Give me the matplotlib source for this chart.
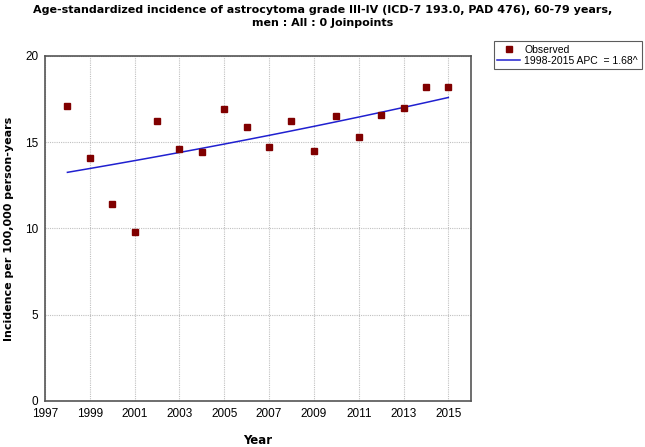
import matplotlib
matplotlib.use("Agg")
import matplotlib.pyplot as plt
import numpy as np

years = [1998, 1999, 2000, 2001, 2002, 2003, 2004, 2005, 2006, 2007, 2008,
         2009, 2010, 2011, 2012, 2013, 2014, 2015]
observed = [17.1, 14.1, 11.4, 9.8, 16.2, 14.6, 14.4, 16.9, 15.9, 14.7, 16.2,
            14.5, 16.5, 15.3, 16.6, 17.0, 18.2, 18.2]
fit_start = 13.25
apc = 1.68
x_ticks = [1997, 1999, 2001, 2003, 2005, 2007, 2009, 2011, 2013, 2015]
y_ticks = [0, 5, 10, 15, 20]

fitted = [fit_start * (1 + apc / 100) ** (y - years[0]) for y in years]

fig = plt.figure(figsize=(6.45, 4.47), dpi=100)
ax = fig.add_axes([0.0698, 0.103, 0.660, 0.772])

ax.plot(years, fitted, color="#2020d0", lw=1.1, zorder=3,
        label="1998-2015 APC  = 1.68^")
ax.plot(years, observed, ls="none", marker="s", ms=4.5, color="#800000",
        zorder=4, label="Observed")

ax.set_xlim(1997, 2016)
ax.set_ylim(0, 20)
ax.set_xticks(x_ticks)
ax.set_yticks(y_ticks)
ax.tick_params(length=0, labelsize=8.5, pad=5)
for lab in ax.get_xticklabels() + ax.get_yticklabels():
    lab.set_family("Liberation Sans")
ax.grid(True, color="#c0c0c0", ls=(0, (1, 1)), lw=0.8)
for s in ax.spines.values():
    s.set_color("#555555")
    s.set_linewidth(1.2)

ax.set_xlabel("Year", fontsize=8.5, fontweight="bold", labelpad=10)
ax.set_ylabel("Incidence per 100,000 person-years", fontsize=8,
              fontweight="bold", labelpad=8)

fig.text(0.5, 0.988, "Age-standardized incidence of astrocytoma grade III-IV (ICD-7 193.0, PAD 476), 60-79 years,\nmen : All : 0 Joinpoints",
         ha="center", va="top", fontsize=8, fontweight="bold", linespacing=1.35)

handles, labels = ax.get_legend_handles_labels()
leg = fig.legend(handles[::-1], labels[::-1], loc="upper left",
                 bbox_to_anchor=(0.762, 0.912), frameon=True,
                 fancybox=False, edgecolor="#333333", handlelength=2.2,
                 borderpad=0.35, labelspacing=0.05, handletextpad=0.4,
                 borderaxespad=0.2,
                 prop={"family": "Liberation Sans", "size": 7.5})
leg.get_frame().set_linewidth(0.8)

fig.savefig("out.png", dpi=100)
